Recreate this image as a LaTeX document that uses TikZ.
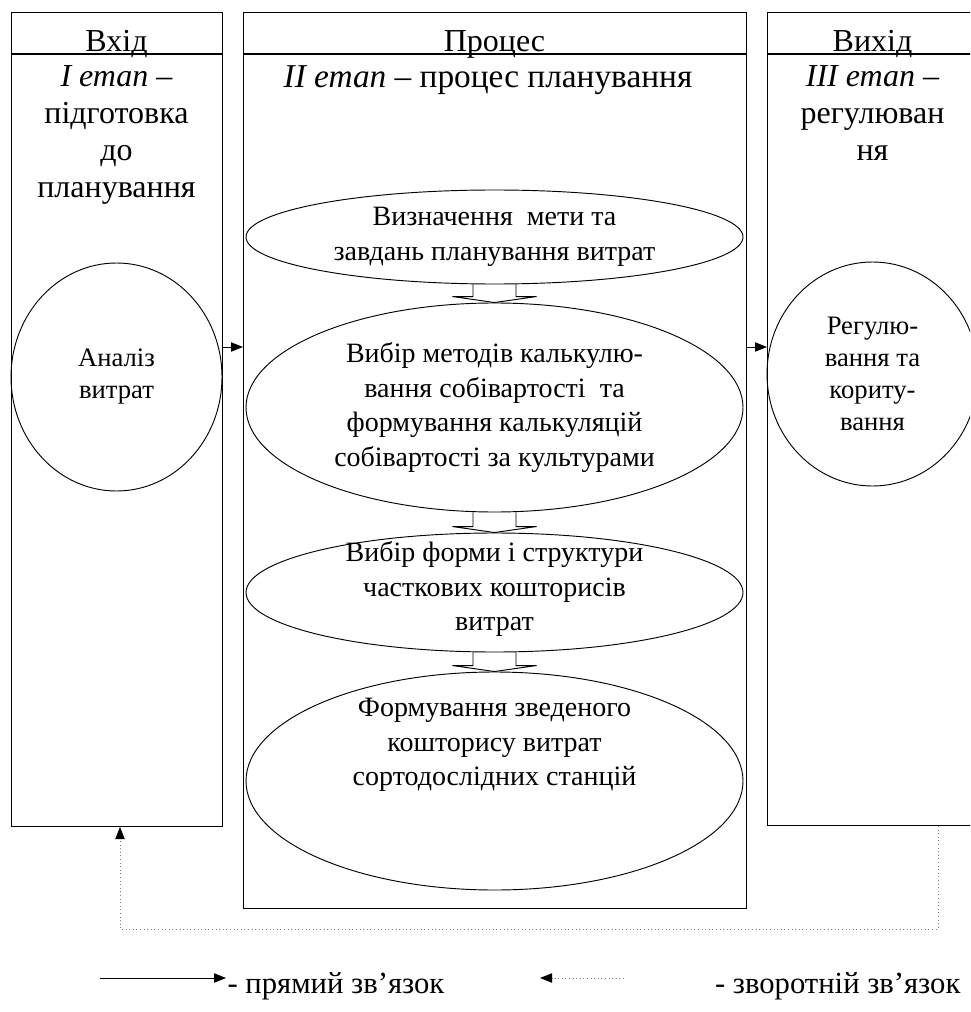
\documentclass[tikz,border=0pt]{standalone}
\usepackage{fontspec}
\setmainfont{Liberation Serif}
\usetikzlibrary{shapes.geometric,arrows.meta,calc}

% hollow block arrow pointing down from one oval to the next
\newcommand\blockdown[2]{%
  \draw[blockarrow] ($(#1.south)+(-21.5,0)$) -- ($(#2.north)+(-21.5,-6)$)
    -- ($(#2.north)+(-42,-6)$) -- (#2.north) -- ($(#2.north)+(42,-6)$)
    -- ($(#2.north)+(21.5,-6)$) -- ($(#1.south)+(21.5,0)$);}

\begin{document}
\begin{tikzpicture}[x=0.75pt,y=-0.75pt,
  frame/.style={draw, line width=0.8pt, rectangle, anchor=north west, inner sep=0pt},
  oval/.style={draw, ellipse, line width=0.7pt, inner sep=0pt, align=center,
    font=\fontsize{21}{26}\selectfont},
  sideoval/.style={oval, font=\fontsize{20}{24}\selectfont},
  ovaltext/.style={align=center, inner sep=0pt, font=\fontsize{21}{26}\selectfont},
  head/.style={anchor=base, font=\fontsize{24}{28}\selectfont},
  stage/.style={anchor=base, align=center, font=\fontsize{24}{27.75}\selectfont},
  legend/.style={font=\fontsize{23}{27}\selectfont, inner sep=1pt},
  blockarrow/.style={draw, line width=0.7pt, line join=miter},
  flow/.style={line width=0.7pt, -{Triangle[length=9pt,width=7pt]}},
  feedback/.style={gray, dotted, line width=0.7pt,
    -{Triangle[length=9pt,width=7pt,color=black]}}]

\useasboundingbox (0,0) rectangle (970,1012);
\clip (0,0) rectangle (970,1012);

% three columns
\node[frame, minimum width=158.25pt, minimum height=610.5pt] (boxL) at (11,12) {};
\node[frame, minimum width=377.25pt, minimum height=672pt] (boxM) at (243,12) {};
\node[frame, minimum width=158.25pt, minimum height=609.75pt] (boxR) at (767,12) {};

% header rows
\draw[line width=0.8pt] ($(boxL.north west)+(0,42)$) -- ($(boxL.north east)+(0,42)$);
\draw[line width=0.8pt] ($(boxM.north west)+(0,42)$) -- ($(boxM.north east)+(0,42)$);
\draw[line width=0.8pt] ($(boxR.north west)+(0,42)$) -- ($(boxR.north east)+(0,42)$);

\node[head] (hL) at (116.5,52) {Вхід};
\node[head] (hM) at (494.5,52) {Процес};
\node[head] (hR) at (872.5,52) {Вихід};

% stage captions (anchored at the baseline of their last line)
\node[stage] (sL) at (116.5,198) {\textit{I етап} –\\підготовка\\до\\планування};
\node[stage, font=\fontsize{25}{28}\selectfont] (sM) at (488,88)
  {\textit{II етап} – процес планування};
\node[stage] (sR) at (872.5,161) {\textit{III етап} –\\регулюван\\ня};

% side ovals
\node[sideoval, minimum width=158.25pt, minimum height=171pt] (aL) at (116.5,377)
  {Аналіз\\витрат};
\node[sideoval, minimum width=158.25pt, minimum height=168pt] (aR) at (872.5,374)
  {Регулю-\\вання та\\кориту-\\вання};

% planning process ovals
\node[oval, minimum width=372.75pt, minimum height=70.5pt] (e1) at (494.5,237)
  {Визначення \ мети та\\завдань планування витрат};
\node[oval, minimum width=372.75pt, minimum height=156.75pt] (e2) at (494.5,407.5)
  {Вибір методів калькулю-\\вання собівартості \ та\\формування калькуляцій\\собівартості за культурами};
\node[oval, minimum width=372.75pt, minimum height=89.25pt] (e3) at (494.5,592.5) {};
\node[ovaltext] (t3) at (494.5,589)
  {Вибір форми і структури\\часткових кошторисів\\витрат};
\node[oval, minimum width=372.75pt, minimum height=163.5pt] (e4) at (494.5,781) {};
\node[ovaltext] (t4) at (494.5,745)
  {Формування зведеного\\кошторису витрат\\сортодослідних станцій};

\blockdown{e1}{e2}
\blockdown{e2}{e3}
\blockdown{e3}{e4}

% direct links between columns
\coordinate (fwd) at (0,347);
\draw[flow] (boxL.east |- fwd) -- (boxM.west |- fwd);
\draw[flow] (boxM.east |- fwd) -- (boxR.west |- fwd);

% feedback loop
\coordinate (fbR) at (938,929);
\coordinate (fbL) at (120,929);
\draw[feedback] (boxR.south -| fbR) -- (fbR) -- (fbL) -- (boxL.south -| fbL);

% legend
\node[legend, anchor=base west] (lgA) at (226,993) {- прямий зв’язок};
\node[legend, anchor=base east] (lgB) at (962,993) {- зворотній зв’язок};
\coordinate (lgAs) at (100,978);
\draw[flow] (lgAs) -- (lgA.west |- lgAs);
\coordinate (lgBs) at (624,978);
\coordinate (lgBe) at (540,978);
\draw[feedback] (lgBs) -- (lgBe);
\end{tikzpicture}
\end{document}
